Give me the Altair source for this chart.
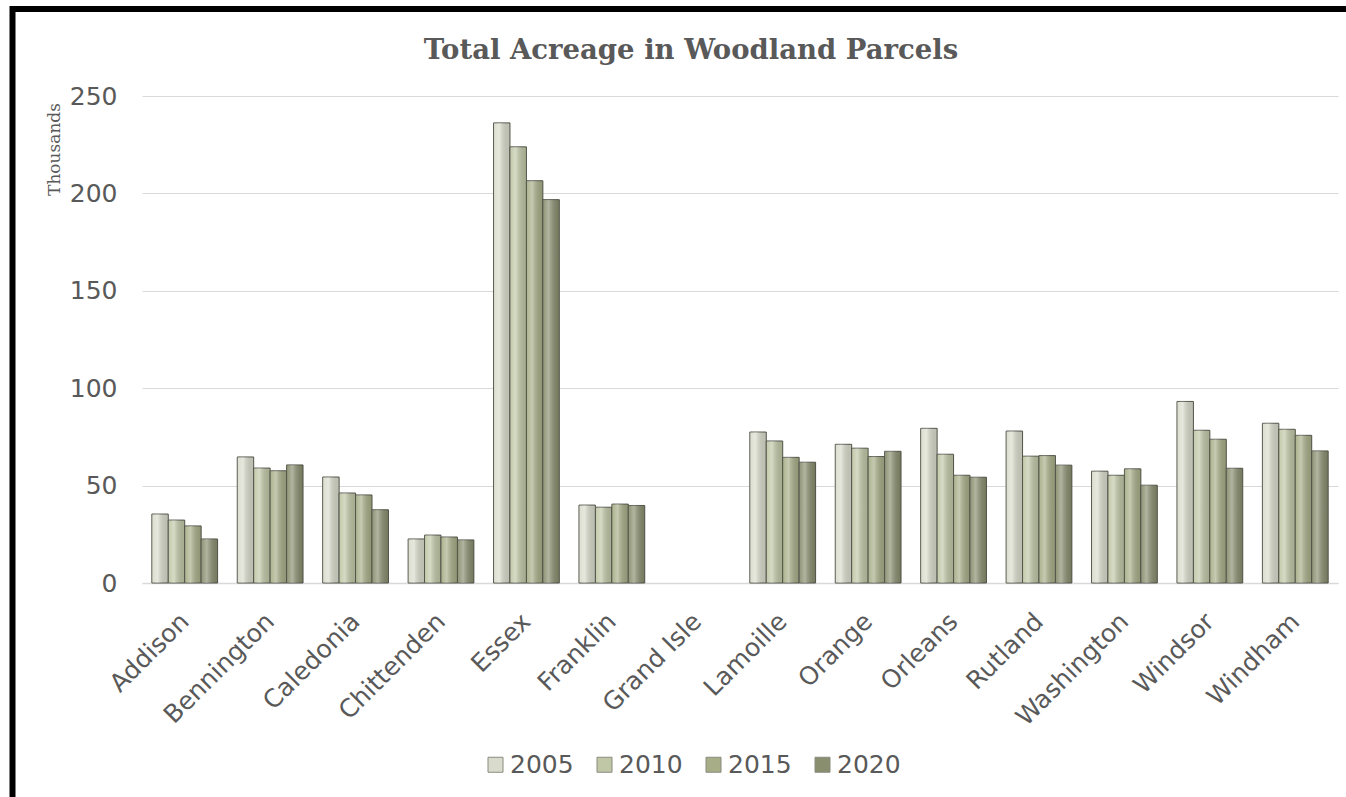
import altair as alt
import pandas as pd

counties = ["Addison", "Bennington", "Caledonia", "Chittenden", "Essex", "Franklin",
            "Grand Isle", "Lamoille", "Orange", "Orleans", "Rutland", "Washington",
            "Windsor", "Windham"]
years = ["2005", "2010", "2015", "2020"]
v2005 = [35.4, 64.7, 54.4, 22.6, 236.2, 40.0, 0, 77.5, 71.2, 79.4, 78.0, 57.4, 93.2, 82.0]
v2010 = [32.3, 59.0, 46.2, 24.6, 223.9, 38.9, 0, 72.9, 69.2, 66.1, 65.1, 55.3, 78.4, 78.9]
v2015 = [29.3, 57.6, 45.2, 23.6, 206.5, 40.5, 0, 64.5, 64.9, 55.3, 65.4, 58.6, 73.8, 75.8]
v2020 = [22.6, 60.6, 37.6, 22.1, 196.8, 39.8, 0, 62.0, 67.6, 54.3, 60.5, 50.2, 58.9, 67.8]
colors = ["#d9dccc", "#c0c7a6", "#a7ae87", "#888e6e"]

series = {"2005": v2005, "2010": v2010, "2015": v2015, "2020": v2020}
rows = []
for y in years:
    for c, v in zip(counties, series[y]):
        rows.append({"county": c, "year": y, "value": v})
df = pd.DataFrame(rows)

W, H = 1196, 487
FONT = "DejaVu Sans"
GREY = "#595959"

x_enc = alt.X("county:N", sort=counties,
              scale=alt.Scale(domain=counties, paddingInner=0.23, paddingOuter=0.115),
              axis=alt.Axis(title=None, labelAngle=315, labelAlign="right", labelBaseline="middle",
                            labelFontSize=25, labelFont=FONT, labelColor=GREY, labelPadding=34,
                            ticks=False, grid=False, domainColor="#d9d9d9", domainWidth=1.5))
xo_enc = alt.XOffset("year:N", sort=years, scale=alt.Scale(domain=years))
y_enc = alt.Y("value:Q", scale=alt.Scale(domain=[0, 250], nice=False),
              axis=alt.Axis(values=[0, 50, 100, 150, 200, 250], title="Thousands",
                            grid=True, gridColor="#d9d9d9", gridWidth=1.2, domain=False, ticks=False,
                            labelFontSize=25, labelFont=FONT, labelColor=GREY, labelPadding=25,
                            titleFont="DejaVu Serif", titleFontSize=17, titleFontWeight="normal",
                            titleColor=GREY, titleAngle=270, titleX=-83, titleY=53,
                            titleAlign="center", titleBaseline="alphabetic"))

base = alt.Chart(df).transform_filter("datum.value > 0")

bars = base.mark_bar(stroke="#55574c", strokeWidth=1).encode(
    x=x_enc, xOffset=xo_enc, y=y_enc,
    color=alt.Color("year:N", sort=years, scale=alt.Scale(domain=years, range=colors),
                    legend=alt.Legend(title=None, orient="none", legendX=341, legendY=656,
                                      direction="horizontal", symbolType="square", symbolSize=225,
                                      symbolStrokeColor="#8a8a80", symbolStrokeWidth=1,
                                      labelFontSize=25, labelFont=FONT, labelColor=GREY,
                                      labelOffset=2, columnPadding=18)),
)

shine = base.mark_bar(
    fill=alt.Gradient(gradient="linear", x1=0, x2=1, y1=0, y2=0,
                      stops=[alt.GradientStop(offset=0, color="rgba(255,255,255,0.05)"),
                             alt.GradientStop(offset=0.35, color="rgba(255,255,255,0.35)"),
                             alt.GradientStop(offset=1, color="rgba(0,0,0,0.12)")]),
    strokeWidth=0,
).encode(x=x_enc, xOffset=xo_enc, y=y_enc)

frame = alt.Chart(pd.DataFrame({"k": [0]})).mark_rect(
    fillOpacity=0, stroke="black", strokeWidth=6
).encode(x=alt.value(-129.5), x2=alt.value(1240), y=alt.value(-87), y2=alt.value(730))

chart = alt.layer(bars, shine, frame).properties(
    width=W, height=H,
    title=alt.Title("Total Acreage in Woodland Parcels", font="DejaVu Serif", fontSize=27.5,
                    fontWeight="bold", color=GREY, anchor="middle", frame="group",
                    dx=-49, dy=80, offset=0, baseline="alphabetic"),
    autosize=alt.AutoSizeParams(type="none"),
    padding={"left": 142, "top": 96, "right": 8, "bottom": 214},
    background="white",
).configure_view(stroke=None)

chart.save("out.html", embed_options={"renderer": "svg", "actions": False})
